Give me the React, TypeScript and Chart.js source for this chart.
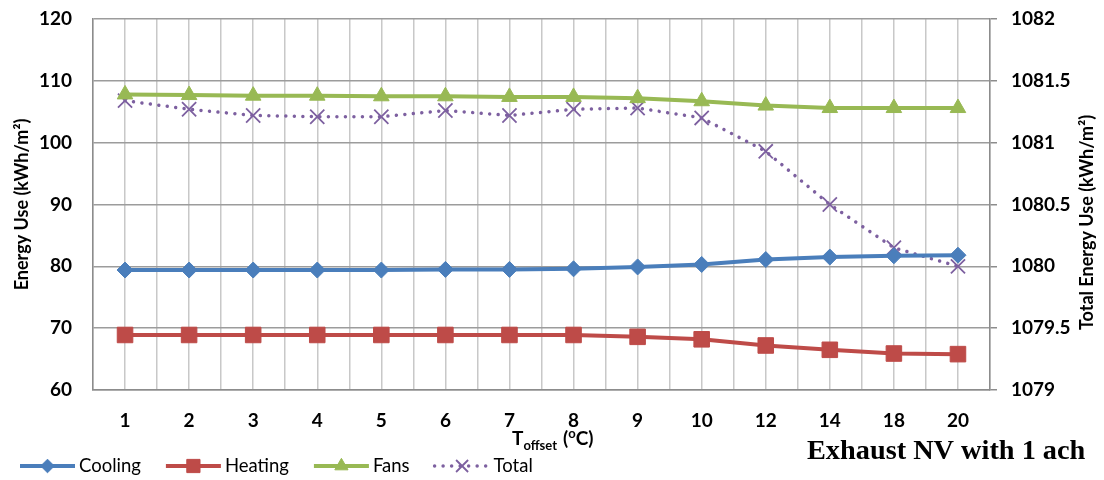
import React, { useEffect, useRef } from "react";
import { Chart, registerables } from "chart.js";
import { drawPoint } from "chart.js/helpers";

Chart.register(...registerables);

const categories = ["1", "2", "3", "4", "5", "6", "7", "8", "9", "10", "12", "14", "18", "20"];
const cooling = [79.4, 79.4, 79.4, 79.4, 79.4, 79.5, 79.5, 79.6, 79.9, 80.3, 81.1, 81.5, 81.7, 81.8];
const heating = [68.9, 68.9, 68.9, 68.9, 68.9, 68.9, 68.9, 68.9, 68.6, 68.2, 67.2, 66.5, 65.9, 65.8];
const fans = [107.8, 107.7, 107.6, 107.6, 107.5, 107.5, 107.4, 107.4, 107.2, 106.7, 106.0, 105.6, 105.6, 105.6];
const total = [1081.34, 1081.27, 1081.22, 1081.21, 1081.21, 1081.26, 1081.22, 1081.27, 1081.28, 1081.2, 1080.93, 1080.5, 1080.15, 1080.0];

const leftTicks = { min: 60, max: 120, step: 10 };
const rightTicks = { min: 1079, max: 1082, step: 0.5 };

const seriesNames = ["Cooling", "Heating", "Fans", "Total"];
const colors = ["#4A7EBB", "#BE4B48", "#98B954", "#7D60A0"];

const FONT = "Lato, 'Open Sans', sans-serif";
const H_GRID = "#9c9c9c";
const V_GRID = "#c8c8c8";
const AXIS = "#8c8c8c";

const overlayPlugin = {
  id: "overlay",
  afterDraw(chart: any) {
    const ctx: CanvasRenderingContext2D = chart.ctx;
    const area = chart.chartArea;
    const midY = (area.top + area.bottom) / 2;

    // left axis title
    ctx.save();
    ctx.fillStyle = "#000";
    ctx.font = `bold 18px ${FONT}`;
    ctx.textAlign = "center";
    ctx.textBaseline = "middle";
    ctx.translate(22, midY);
    ctx.rotate(-Math.PI / 2);
    ctx.fillText("Energy Use (kWh/m²)", 0, 0);
    ctx.restore();

    // right axis title
    ctx.save();
    ctx.fillStyle = "#000";
    ctx.font = `bold 18px ${FONT}`;
    ctx.textAlign = "center";
    ctx.textBaseline = "middle";
    ctx.translate(1087, midY + 18);
    ctx.rotate(-Math.PI / 2);
    ctx.fillText("Total Energy Use (kWh/m²)", 0, 0);
    ctx.restore();

    // x axis title with subscript / superscript
    ctx.save();
    ctx.fillStyle = "#000";
    ctx.textAlign = "left";
    ctx.textBaseline = "alphabetic";
    const big = `bold 19px ${FONT}`;
    const small = `bold 13px ${FONT}`;
    const by = 445;
    let tx = 512;
    ctx.font = big;
    ctx.fillText("T", tx, by);
    tx += ctx.measureText("T").width;
    ctx.font = small;
    ctx.fillText("offset", tx, by + 5);
    tx += ctx.measureText("offset").width + 6;
    ctx.font = big;
    ctx.fillText("(", tx, by);
    tx += ctx.measureText("(").width;
    ctx.font = small;
    ctx.fillText("o", tx, by - 7);
    tx += ctx.measureText("o").width;
    ctx.font = big;
    ctx.fillText("C)", tx, by);
    ctx.restore();

    // legend
    const ly = 466;
    let lx = 20;
    chart.data.datasets.forEach((ds: any) => {
      ctx.save();
      ctx.strokeStyle = ds.borderColor;
      ctx.lineWidth = ds.borderWidth;
      ctx.lineCap = ds.borderCapStyle || "butt";
      ctx.setLineDash(ds.borderDash || []);
      ctx.beginPath();
      ctx.moveTo(lx, ly);
      ctx.lineTo(lx + 55, ly);
      ctx.stroke();
      ctx.setLineDash([]);
      ctx.lineCap = "butt";
      ctx.fillStyle = ds.pointBackgroundColor;
      ctx.strokeStyle = ds.pointBorderColor;
      ctx.lineWidth = ds.pointBorderWidth;
      drawPoint(ctx, { pointStyle: ds.pointStyle, radius: ds.pointRadius * 0.85, rotation: 0, borderWidth: ds.pointBorderWidth }, lx + 27.5, ly);
      ctx.restore();
      ctx.save();
      ctx.font = `18.5px ${FONT}`;
      ctx.fillStyle = "#000";
      ctx.textAlign = "left";
      ctx.textBaseline = "middle";
      ctx.fillText(ds.label, lx + 59, ly);
      lx += 59 + ctx.measureText(ds.label).width + 25;
      ctx.restore();
    });

    // caption
    ctx.save();
    ctx.fillStyle = "#000";
    ctx.font = "bold 28.3px 'Liberation Serif', 'DejaVu Serif', serif";
    ctx.textAlign = "left";
    ctx.textBaseline = "alphabetic";
    ctx.fillText("Exhaust NV with 1 ach", 807, 459);
    ctx.restore();
  },
};

export default function App() {
  const ref = useRef<HTMLCanvasElement | null>(null);

  useEffect(() => {
    if (!ref.current) return;
    const tickFont = { family: FONT, size: 19, weight: "bold" as const };
    const fitVertical = (w: number) => (s: any) => {
      s.width = w;
      s.paddingTop = 0;
      s.paddingBottom = 0;
    };
    const chart = new Chart(ref.current, {
      type: "line",
      data: {
        labels: categories,
        datasets: [
          {
            label: seriesNames[0],
            data: cooling,
            yAxisID: "y",
            borderColor: colors[0],
            backgroundColor: colors[0],
            borderWidth: 4,
            pointStyle: "rectRot",
            pointRadius: 8,
            pointBackgroundColor: colors[0],
            pointBorderColor: colors[0],
            pointBorderWidth: 1,
          },
          {
            label: seriesNames[1],
            data: heating,
            yAxisID: "y",
            borderColor: colors[1],
            backgroundColor: colors[1],
            borderWidth: 4,
            pointStyle: "rect",
            pointRadius: 11,
            pointBackgroundColor: colors[1],
            pointBorderColor: colors[1],
            pointBorderWidth: 1,
          },
          {
            label: seriesNames[2],
            data: fans,
            yAxisID: "y",
            borderColor: colors[2],
            backgroundColor: colors[2],
            borderWidth: 4,
            pointStyle: "triangle",
            pointRadius: 9,
            pointBackgroundColor: colors[2],
            pointBorderColor: colors[2],
            pointBorderWidth: 1,
          },
          {
            label: seriesNames[3],
            data: total,
            yAxisID: "y1",
            borderColor: colors[3],
            backgroundColor: colors[3],
            borderWidth: 3.5,
            borderDash: [0.01, 8.5],
            borderCapStyle: "round",
            pointStyle: "crossRot",
            pointRadius: 10,
            pointBackgroundColor: colors[3],
            pointBorderColor: colors[3],
            pointBorderWidth: 1.8,
          },
        ],
      },
      options: {
        responsive: false,
        animation: false,
        devicePixelRatio: 1,
        layout: { padding: { top: 19, bottom: 30, left: 0, right: 0 } },
        plugins: { legend: { display: false }, tooltip: { enabled: false } },
        elements: { line: { tension: 0 } },
        scales: {
          x: {
            type: "category",
            offset: true,
            grid: { display: true, offset: true, color: V_GRID, lineWidth: 1.5, drawTicks: false },
            border: { display: true, color: AXIS, width: 1.5 },
            ticks: { font: tickFont, color: "#000", padding: 19, maxRotation: 0, autoSkip: false },
            afterFit: (s: any) => {
              s.height = 60;
            },
          },
          x2: {
            type: "category",
            labels: categories,
            position: "bottom",
            offset: true,
            grid: { display: true, offset: false, color: V_GRID, lineWidth: 1.5, drawTicks: false },
            border: { display: false },
            ticks: { display: false },
            afterFit: (s: any) => {
              s.height = 0;
            },
          },
          y: {
            position: "left",
            min: leftTicks.min,
            max: leftTicks.max,
            ticks: { stepSize: leftTicks.step, font: tickFont, color: "#000", padding: 21 },
            grid: { color: H_GRID, lineWidth: 1.5, drawTicks: false },
            border: { display: true, color: AXIS, width: 1.5 },
            afterFit: fitVertical(93),
          },
          y1: {
            position: "right",
            min: rightTicks.min,
            max: rightTicks.max,
            ticks: {
              stepSize: rightTicks.step,
              font: tickFont,
              color: "#000",
              padding: 14,
              callback: (v: any) => String(v),
            },
            grid: { drawOnChartArea: false, drawTicks: true, tickLength: 7, color: AXIS, lineWidth: 1.5 },
            border: { display: true, color: AXIS, width: 1.5 },
            afterFit: fitVertical(114),
          },
        },
      },
      plugins: [overlayPlugin],
    });
    return () => chart.destroy();
  }, []);

  return (
    <div style={{ position: "fixed", left: 0, top: 0, width: 1104, height: 480, background: "#fff" }}>
      <canvas ref={ref} width={1104} height={480} style={{ display: "block", width: 1104, height: 480 }} />
    </div>
  );
}
